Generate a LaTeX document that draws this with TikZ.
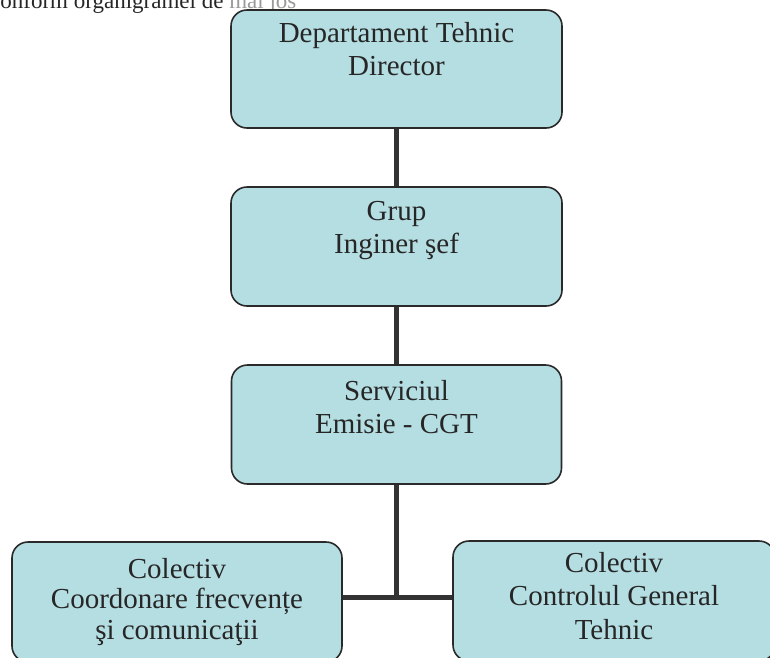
\documentclass[tikz,border=0pt]{standalone}
\usepackage{fontspec}
\setmainfont{Liberation Serif}
\definecolor{boxfill}{HTML}{B5DEE3}
\definecolor{boxline}{HTML}{2A2A2A}
\definecolor{conncol}{HTML}{333333}
\definecolor{fadetext}{HTML}{9A9A9A}
\tikzset{
  orgbox/.style={draw=boxline, line width=1.6pt, fill=boxfill, rounded corners=16pt, inner sep=0pt},
  orgtext/.style={align=center, anchor=base, inner sep=0pt, text=black!85,
    font=\fontsize{29}{32.5}\selectfont},
  conn/.style={draw=conncol, line width=5pt}
}
\begin{document}
\begin{tikzpicture}[x=1pt,y=-1pt]
\useasboundingbox (0,0) rectangle (770,657);
\fill[white] (0,0) rectangle (770,657);
\clip (0,0) rectangle (770,657);
% clipped page text at top
\node[anchor=base west, inner sep=0pt, font=\fontsize{23}{26}\selectfont, text=black!85] (pg) at (-10,8) {conform organigramei de \textcolor{fadetext}{mai jos}};
% boxes
\node[orgbox, minimum width=331pt, minimum height=118pt] (b1) at (396.5,69) {};
\node[orgbox, minimum width=331pt, minimum height=119pt] (b2) at (396.5,246.5) {};
\node[orgbox, minimum width=330pt, minimum height=119pt] (b3) at (396.5,424.5) {};
\node[orgbox, minimum width=330pt, minimum height=120pt] (lb) at (177,602) {};
\node[orgbox, minimum width=322pt, minimum height=120pt] (rb) at (614,601) {};
% texts (anchor = baseline of last line)
\node[orgtext] (t1) at (396.5,75) {Departament Tehnic\\Director};
\node[orgtext] (t2) at (396.5,253) {Grup\\Inginer şef};
\node[orgtext] (t3) at (396.5,433) {Serviciul\\Emisie - CGT};
\node[orgtext, font=\fontsize{29}{30.5}\selectfont] (t4) at (177,639) {Colectiv\\Coordonare frecvențe\\şi comunicaţii};
\node[orgtext, font=\fontsize{29}{33.5}\selectfont] (t5) at (614,639) {Colectiv\\Controlul General\\Tehnic};
% connectors
\coordinate (j) at (396.5,597);
\draw[conn] (b1.south) -- (b2.north);
\draw[conn] (b2.south) -- (b3.north);
\draw[conn] (b3.south) -- (j);
\draw[conn] (lb.east |- j) -- (rb.west |- j);
\end{tikzpicture}
\end{document}
